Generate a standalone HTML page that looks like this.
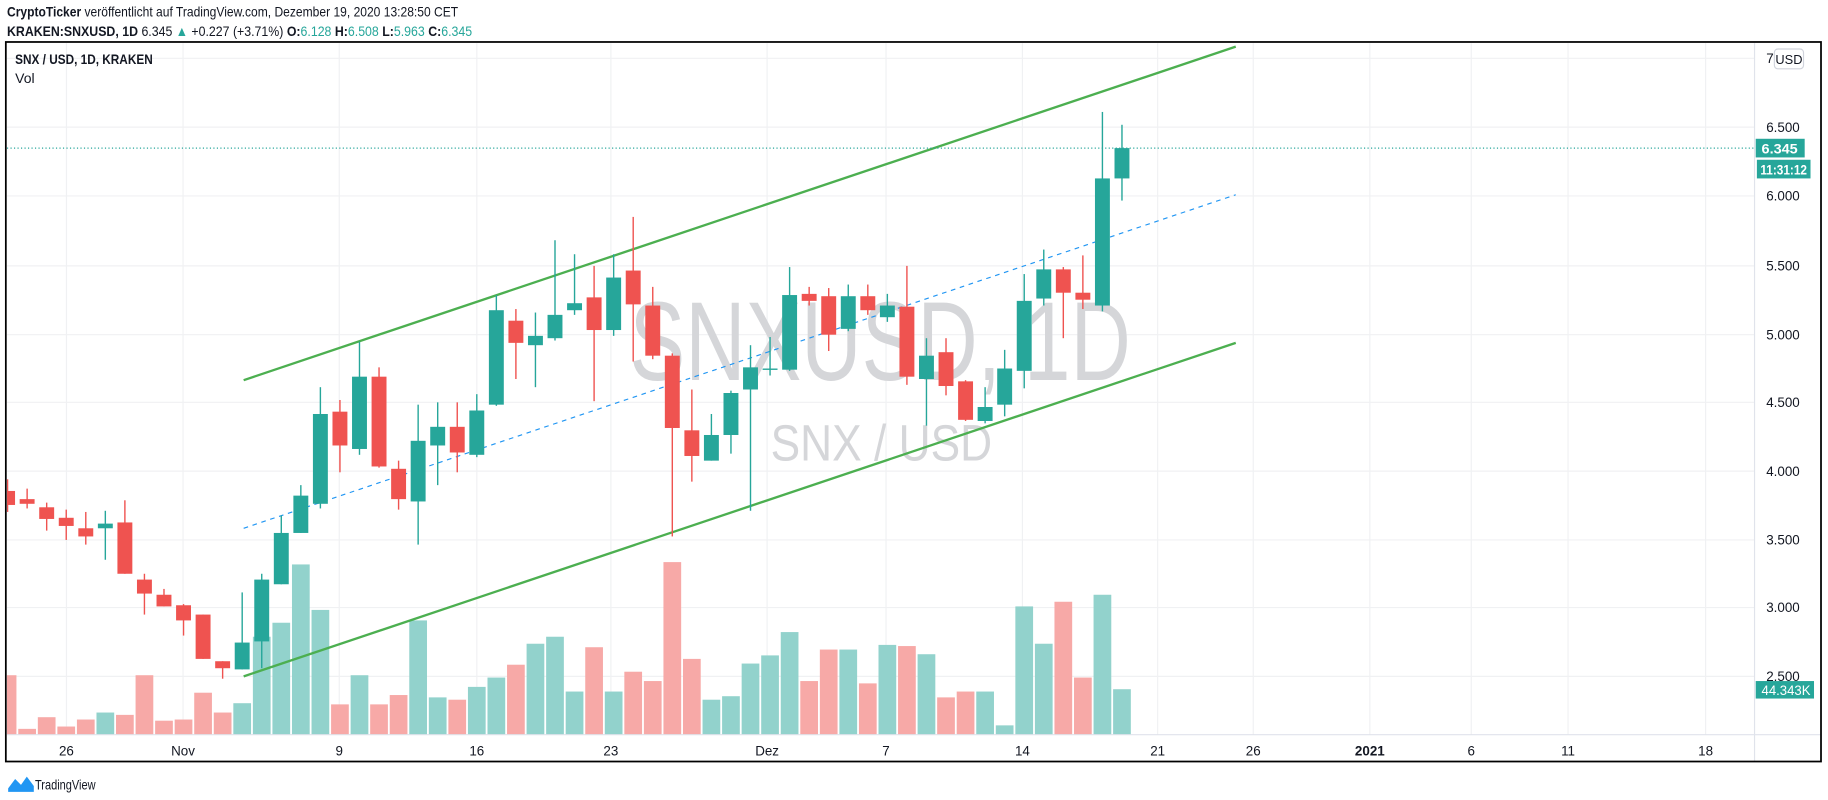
<!DOCTYPE html>
<html><head><meta charset="utf-8"><style>
html,body{margin:0;padding:0;background:#fff;}
svg{display:block;}
text{font-family:"Liberation Sans","DejaVu Sans",sans-serif;}
</style></head><body>
<svg id="s" width="1828" height="800" viewBox="0 0 1568 686" preserveAspectRatio="none" xmlns="http://www.w3.org/2000/svg">
<defs><clipPath id="pc"><rect x="6" y="37" width="1499" height="593"/></clipPath></defs>
<rect width="1568" height="686" fill="#fff"/>
<g id="grid" stroke="#f0f1f3" stroke-width="1"></g>
<g clip-path="url(#pc)">
<text x="755" y="326" font-size="96" fill="#d5d6d9" text-anchor="middle" textLength="430" lengthAdjust="spacingAndGlyphs">SNXUSD, 1D</text>
<text x="756" y="395" font-size="44" fill="#d5d6d9" text-anchor="middle" textLength="190" lengthAdjust="spacingAndGlyphs">SNX / USD</text>
<g id="vol"></g>
<line x1="209" y1="326" x2="1060" y2="40" stroke="#4caf50" stroke-width="2"/>
<line x1="209" y1="580" x2="1060" y2="294" stroke="#4caf50" stroke-width="2"/>
<line x1="209" y1="453" x2="1060" y2="167" stroke="#2196f3" stroke-width="1" stroke-dasharray="4,4"/>
<line x1="6" y1="127" x2="1505" y2="127" stroke="#26a69a" stroke-width="1" stroke-dasharray="1,2"/>
<g id="cdl"></g>
</g>
<line x1="1505" y1="37" x2="1505" y2="653" stroke="#e0e3eb"/>
<line x1="6" y1="630" x2="1562" y2="630" stroke="#e0e3eb"/>
<rect x="5" y="36" width="1557" height="617" fill="none" stroke="#000" stroke-width="1.5"/>
<g font-size="11.5" fill="#131722">
<text x="1515" y="54">7</text>
<text x="1515" y="113">6.500</text><text x="1515" y="172">6.000</text><text x="1515" y="232">5.500</text>
<text x="1515" y="291">5.000</text><text x="1515" y="349">4.500</text><text x="1515" y="408">4.000</text>
<text x="1515" y="467">3.500</text><text x="1515" y="525">3.000</text><text x="1515" y="584">2.500</text>
</g>
<rect x="1522" y="42" width="25" height="17" rx="3" fill="#fff" stroke="#d1d4dc"/>
<text x="1534.5" y="55" font-size="11" fill="#131722" text-anchor="middle">USD</text>
<rect x="1506" y="119" width="42" height="16" fill="#26a69a"/>
<text x="1511" y="131.5" font-size="11.5" font-weight="bold" fill="#fff" textLength="31" lengthAdjust="spacingAndGlyphs">6.345</text>
<rect x="1507" y="137" width="46" height="16" fill="#26a69a"/>
<text x="1510" y="149.5" font-size="11.5" font-weight="bold" fill="#fff" textLength="40" lengthAdjust="spacingAndGlyphs">11:31:12</text>
<rect x="1506" y="584" width="50" height="15" fill="#26a69a"/>
<text x="1511" y="596" font-size="11.5" fill="#fff" textLength="42" lengthAdjust="spacingAndGlyphs">44.343K</text>
<g font-size="11.5" fill="#131722" text-anchor="middle">
<text x="57" y="648">26</text><text x="157" y="648">Nov</text><text x="291" y="648">9</text>
<text x="409" y="648">16</text><text x="524" y="648">23</text><text x="658" y="648">Dez</text>
<text x="760" y="648">7</text><text x="877" y="648">14</text><text x="993" y="648">21</text>
<text x="1075" y="648">26</text><text x="1175" y="648" font-weight="bold">2021</text><text x="1262" y="648">6</text>
<text x="1345" y="648">11</text><text x="1463" y="648">18</text>
</g>
<text x="6" y="14" font-size="12" fill="#131722" textLength="387" lengthAdjust="spacingAndGlyphs"><tspan font-weight="bold">CryptoTicker</tspan> veröffentlicht auf TradingView.com, Dezember 19, 2020 13:28:50 CET</text>
<text x="6" y="31" font-size="12" fill="#131722" textLength="399" lengthAdjust="spacingAndGlyphs"><tspan font-weight="bold">KRAKEN:SNXUSD, 1D</tspan>  6.345 <tspan fill="#26a69a">▲</tspan> +0.227 (+3.71%) <tspan font-weight="bold">O:</tspan><tspan fill="#26a69a">6.128</tspan> <tspan font-weight="bold">H:</tspan><tspan fill="#26a69a">6.508</tspan> <tspan font-weight="bold">L:</tspan><tspan fill="#26a69a">5.963</tspan> <tspan font-weight="bold">C:</tspan><tspan fill="#26a69a">6.345</tspan></text>
<text x="13" y="55" font-size="12" font-weight="bold" fill="#131722" textLength="118" lengthAdjust="spacingAndGlyphs">SNX / USD, 1D, KRAKEN</text>
<text x="13" y="71" font-size="12" fill="#131722">Vol</text>
<path d="M7 676 L13 668 L18 673 L23 666 L29 674 L29 679 L7 679 Z" fill="#2196f3"/>
<text x="30" y="677" font-size="12" fill="#131722" textLength="52" lengthAdjust="spacingAndGlyphs">TradingView</text>
</svg>
<script>
var NS="http://www.w3.org/2000/svg";
function el(p,t,a){var e=document.createElementNS(NS,t);for(var k in a)e.setAttribute(k,a[k]);p.appendChild(e);return e;}
var grid=document.getElementById('grid');
[57,157,291,409,524,658,760,877,993,1075,1175,1262,1345,1463].forEach(function(x){el(grid,'line',{x1:x,y1:37,x2:x,y2:630});});
[50,109,168,228,287,345,404,463,521,580].forEach(function(y){el(grid,'line',{x1:6,y1:y,x2:1505,y2:y});});
var C=[[411,421,433,439,0],[419,428,432,436,0],[431,435,445,455,0],[437,444,451,463,0],[439,453,460,467,0],[438,449,453,480,1],[429,448,492,492,0],[492,497,509,527,0],[505,510,520,520,0],[518,519,532,545,0],
[527,527,565,565,0],[567,567,573,582,0],[508,551,574,574,1],[492,497,550,573,1],[442,457,501,501,1],[416,425,457,457,1],[332,355,432,436,1],[343,353,382,405,0],[293,323,385,390,1],[315,323,400,401,0],
[395,402,428,437,0],[347,378,430,467,1],[345,366,382,416,1],[345,366,388,405,0],[338,352,390,392,1],[253,266,347,348,1],[265,275,294,325,0],[268,288,296,332,1],[206,270,290,292,1],[218,260,266,270,1],
[228,255,283,344,0],[218,238,283,288,1],[186,232,261,310,0],[246,262,305,308,0],[303,305,367,460,0],[334,369,391,413,0],[355,373,395,395,1],[335,337,373,389,1],[296,315,334,438,1],[289,316,317,322,1],
[229,253,317,318,1],[246,252,258,262,0],[247,254,287,301,0],[244,254,282,284,1],[244,254,266,270,0],[252,262,272,276,1],[228,263,323,330,0],[290,305,325,365,1],[290,302,331,339,0],[326,327,360,361,0],
[332,349,361,363,1],[300,316,347,357,1],[235,258,318,333,1],[214,231,256,262,1],[229,231,251,290,0],[219,251,257,265,0],[96,153,262,267,1],[107,127,153,172,1]];
var V=[579,625,615,623,617,611,613,579,618,617,594,611,603,546,534,484,523,604,579,604,596,532,598,600,589,581,570,552,546,593,555,593,576,584,482,565,600,597,569,562,542,584,557,557,586,553,554,561,598,593,593,622,520,552,516,581,510,591];
var cd=document.getElementById('cdl'),vo=document.getElementById('vol');
C.forEach(function(c,i){var x=6.5+i*16.77;var col=c[4]?'#26a69a':'#ef5350';
el(vo,'rect',{x:x-7.6,y:V[i],width:15.2,height:630-V[i],fill:c[4]?'#92d2cc':'#f7a9a7'});
el(cd,'rect',{x:x-0.6,y:c[0],width:1.2,height:c[3]-c[0],fill:col});
el(cd,'rect',{x:x-6.4,y:c[1],width:12.8,height:Math.max(1.2,c[2]-c[1]),fill:col});});
</script>
</body></html>
